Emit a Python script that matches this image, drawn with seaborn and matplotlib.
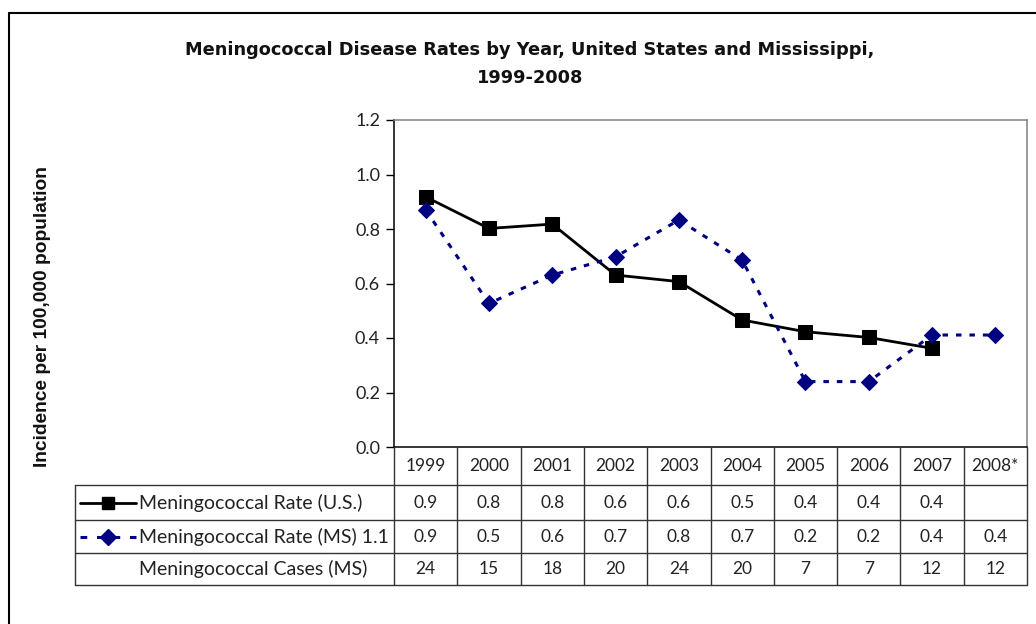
import numpy as np
import pandas as pd
import matplotlib
matplotlib.use("Agg")
import matplotlib.pyplot as plt
from matplotlib.lines import Line2D
import seaborn as sns

# ---- data -------------------------------------------------------------
years = ["1999", "2000", "2001", "2002", "2003", "2004", "2005", "2006", "2007", "2008*"]
us_rate = [0.918, 0.802, 0.818, 0.631, 0.607, 0.466, 0.423, 0.402, 0.362, np.nan]
ms_rate = [0.870, 0.527, 0.631, 0.698, 0.833, 0.686, 0.240, 0.240, 0.411, 0.411]
ms_cases = [24, 15, 18, 20, 24, 20, 7, 7, 12, 12]

us_label = "Meningococcal Rate (U.S.)"
ms_label = "Meningococcal Rate (MS) 1.1"
cases_label = "Meningococcal Cases (MS)"
title = "Meningococcal Disease Rates by Year, United States and Mississippi,\n1999-2008"
ylabel = "Incidence per 100,000 population"
yticks = [0.0, 0.2, 0.4, 0.6, 0.8, 1.0, 1.2]

sns.set_theme(style="white")
plt.rcParams["font.family"] = ["Lato", "DejaVu Sans"]

W, H = 1036, 624
fig = plt.figure(figsize=(W / 100, H / 100), dpi=100)

# pixel layout helpers
def fx(px):
    return px / W

def fy(py):
    return 1 - py / H

PL, PR, PT, PB = 394, 1027, 120, 447       # plot area in pixels
TL, TB = 75, 585                           # table left / bottom
ROWS = [447, 485, 520, 553, 585]           # table row boundaries

ax = fig.add_axes([fx(PL), fy(PB), fx(PR - PL), (PB - PT) / H])

x = np.arange(len(years))
df = pd.DataFrame({"pos": x, "year": years, "us": us_rate, "ms": ms_rate})

NAVY = "#000080"
sns.lineplot(data=df, x="pos", y="us", ax=ax, color="black", lw=2.0,
             marker="s", markersize=10.5, markeredgecolor="black",
             markerfacecolor="black")
sns.lineplot(data=df, x="pos", y="ms", ax=ax, color=NAVY, lw=2.2,
             marker="D", markersize=8.5, markeredgecolor=NAVY,
             markerfacecolor=NAVY, linestyle=(0, (1.8, 2.6)))

ax.set_xlim(-0.5, len(years) - 0.5)
ax.set_ylim(0, 1.2)
ax.set_yticks(yticks)
ax.set_yticklabels([f"{t:.1f}" for t in yticks], fontsize=13, color="#222")
ax.set_xticks([])
ax.set_xlabel("")
ax.set_ylabel("")
ax.tick_params(axis="y", which="major", direction="out", length=6, width=1,
               color="black", left=True, pad=4)
for side in ("left", "bottom"):
    ax.spines[side].set_color("black")
    ax.spines[side].set_linewidth(1.1)
for side in ("top", "right"):
    ax.spines[side].set_color("#808080")
    ax.spines[side].set_linewidth(1.1)

# ---- data table below the plot ---------------------------------------
unit = (PR - PL) / len(years)
tab = fig.add_axes([fx(TL), fy(TB), fx(PR - TL), (TB - PB) / H])
tab.set_xlim(-0.5 - (PL - TL) / unit, len(years) - 0.5)
tab.set_ylim(TB, PB)
tab.axis("off")

lc = "#333333"
lw = 1.0
x0 = -0.5 - (PL - TL) / unit
xr = len(years) - 0.5
# horizontal rules
for r in ROWS[1:]:
    tab.plot([x0, xr], [r, r], color=lc, lw=lw, clip_on=False)
# vertical rules
tab.plot([x0, x0], [ROWS[1], ROWS[-1]], color=lc, lw=lw, clip_on=False)
for i in range(len(years) + 1):
    tab.plot([i - 0.5, i - 0.5], [ROWS[0], ROWS[-1]], color=lc, lw=lw,
             clip_on=False)

fs_num = 12.5
fs_lbl = 14
row_mid = [(ROWS[k] + ROWS[k + 1]) / 2 for k in range(4)]
for i, yr in enumerate(years):
    tab.text(i, row_mid[0], yr, ha="center", va="center", fontsize=fs_num, color="#222")
    if not np.isnan(us_rate[i]):
        tab.text(i, row_mid[1], f"{us_rate[i]:.1f}", ha="center", va="center",
                 fontsize=fs_num, color="#222")
    tab.text(i, row_mid[2], f"{ms_rate[i]:.1f}", ha="center", va="center",
             fontsize=fs_num, color="#222")
    tab.text(i, row_mid[3], f"{ms_cases[i]}", ha="center", va="center",
             fontsize=fs_num, color="#222")

# legend keys in the row headers
kx0 = x0 + (80 - TL) / unit
kx1 = x0 + (136 - TL) / unit
km = (kx0 + kx1) / 2
tab.plot([kx0, kx1], [row_mid[1], row_mid[1]], color="black", lw=2.0, clip_on=False)
tab.plot([km], [row_mid[1]], marker="s", markersize=9, color="black", clip_on=False)
tab.plot([kx0, kx1], [row_mid[2], row_mid[2]], color=NAVY, lw=2.2,
         linestyle=(0, (2.2, 3.2)), clip_on=False)
tab.plot([km], [row_mid[2]], marker="D", markersize=8, color=NAVY, clip_on=False)

tx = x0 + (139 - TL) / unit
tab.text(tx, row_mid[1], us_label, ha="left", va="center", fontsize=fs_lbl, color="#222")
tab.text(tx, row_mid[2], ms_label, ha="left", va="center", fontsize=fs_lbl, color="#222")
tab.text(tx, row_mid[3], cases_label, ha="left", va="center", fontsize=fs_lbl, color="#222")

# ---- title, axis label, frame ----------------------------------------
fig.text(fx(530), fy(64), title, ha="center", va="center", fontsize=12.8,
         fontweight="bold", color="#111", linespacing=1.65,
         family=["DejaVu Sans"])
fig.text(fx(43), fy(317), ylabel, ha="center", va="center", rotation=90,
         fontsize=13.8, fontweight="bold", color="#111",
         family=["Liberation Sans", "DejaVu Sans"])

fig.add_artist(Line2D([fx(9), fx(9)], [fy(13), 0], color="black", lw=1.5))
fig.add_artist(Line2D([fx(9), 1], [fy(13), fy(13)], color="black", lw=1.5))

fig.savefig("out.png", dpi=100, facecolor="white")
